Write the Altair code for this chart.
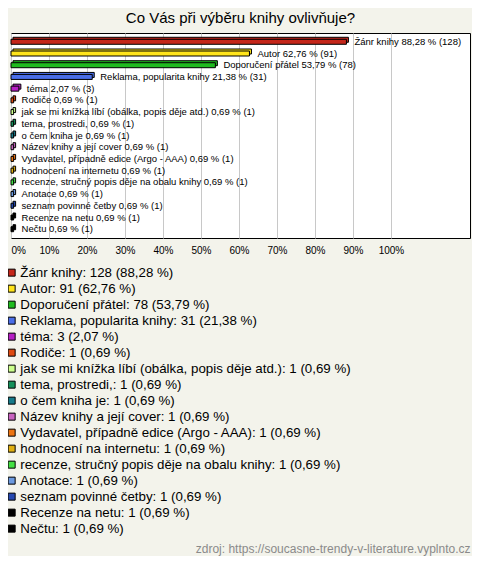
import altair as alt
import pandas as pd

names = [
    "Žánr knihy", "Autor", "Doporučení přátel", "Reklama, popularita knihy", "téma", "Rodiče",
    "jak se mi knížka líbí (obálka, popis děje atd.)", "tema, prostredi,", "o čem kniha je",
    "Název knihy a její cover", "Vydavatel, případně edice (Argo - AAA)", "hodnocení na internetu",
    "recenze, stručný popis děje na obalu knihy", "Anotace", "seznam povinné četby",
    "Recenze na netu", "Nečtu",
]
counts = [128, 91, 78, 31, 3, 1, 1, 1, 1, 1, 1, 1, 1, 1, 1, 1, 1]
percents = [88.28, 62.76, 53.79, 21.38, 2.07, 0.69, 0.69, 0.69, 0.69, 0.69, 0.69, 0.69,
            0.69, 0.69, 0.69, 0.69, 0.69]
colors = [
    "#c4261a", "#ffe41a", "#1fbb1f", "#4a6ee8", "#b51fc4", "#de4a12", "#ccff8c", "#15905a",
    "#157a8a", "#c864c0", "#ec7412", "#e0b012", "#44e044", "#6c9ae0", "#2548b0", "#000000", "#000000",
]
ticks = [0, 10, 20, 30, 40, 50, 60, 70, 80, 90, 100]
title_text = "Co Vás při výběru knihy ovlivňuje?"
source_text = "zdroj: https://soucasne-trendy-v-literature.vyplnto.cz"


def fmt(p):
    return f"{p:.2f}".replace(".", ",")


df = pd.DataFrame({"name": names, "count": counts, "pct": percents})
df["bar_label"] = [f"{n} {fmt(p)} % ({c})" for n, p, c in zip(names, percents, counts)]
df["legend_label"] = [f"{n}: {c} ({fmt(p)} %)" for n, p, c in zip(names, percents, counts)]
legend_labels = list(df["legend_label"])

FONT = "Liberation Sans"

y = alt.Y("name:N", sort=names, axis=None,
          scale=alt.Scale(paddingInner=0.5, paddingOuter=0.5))
x = alt.X(
    "pct:Q",
    scale=alt.Scale(domain=[0, 120.8], nice=False, zero=True),
    axis=alt.Axis(
        values=ticks, labelExpr="datum.value + '%'", grid=True, gridColor="#c8c8c8",
        gridWidth=1, ticks=False, domain=False, labelFontSize=10, labelFont=FONT,
        labelColor="black", labelPadding=7, labelFlush=True,
        title=source_text, titleX=459, titleY=310, titleAlign="right",
        titleBaseline="middle", titleColor="#8a8a8a", titleFontSize=12,
        titleFontWeight="normal", titleFont=FONT, titleAngle=0,
    ),
)
color = alt.Color(
    "legend_label:N",
    scale=alt.Scale(domain=legend_labels, range=colors),
    legend=alt.Legend(
        orient="none", legendX=-6, legendY=233, title=None, symbolType="square",
        symbolSize=49, symbolStrokeColor="black", symbolStrokeWidth=1, symbolOpacity=1,
        labelFontSize=13.3, labelFont=FONT, labelColor="black", rowPadding=2,
        labelOffset=2, labelLimit=460, direction="vertical",
    ),
)

back = alt.Chart(df).mark_bar(
    stroke="black", strokeWidth=1, size=5, xOffset=2, yOffset=-2
).encode(x=x, y=y, color=color)
bars = alt.Chart(df).mark_bar(stroke="black", strokeWidth=1, size=5).encode(
    x=x, y=y, color=color
)
labels = alt.Chart(df).mark_text(
    align="left", baseline="middle", dx=8, fontSize=9.5, font=FONT, color="black"
).encode(x="pct:Q", y=y, text="bar_label:N")

chart = (
    alt.layer(back, bars, labels)
    .properties(
        width=459, height=205,
        title=alt.Title(title_text, fontSize=15, font=FONT, fontWeight="normal",
                        color="black", anchor="middle", offset=7),
        autosize=alt.AutoSizeParams(type="none"),
        padding={"left": 3, "top": 25, "right": 2, "bottom": 318},
        background="#f3f3eb",
    )
    .configure_view(fill="white", stroke="black", strokeWidth=1)
)

chart.save("out.html", embed_options={"renderer": "svg", "actions": False})
